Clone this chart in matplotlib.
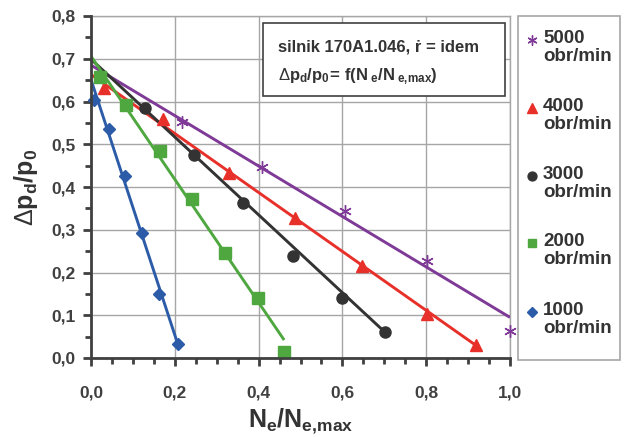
import matplotlib
matplotlib.use("Agg")
import matplotlib.pyplot as plt
from matplotlib.lines import Line2D
from matplotlib.patches import Rectangle
from matplotlib.ticker import MultipleLocator, FuncFormatter

plt.rcParams['font.family'] = ['Liberation Sans', 'DejaVu Sans']
plt.rcParams['mathtext.fontset'] = 'custom'
plt.rcParams['mathtext.rm'] = 'Liberation Sans'
plt.rcParams['mathtext.bf'] = 'Liberation Sans:bold'
plt.rcParams['mathtext.it'] = 'Liberation Sans:italic'

# Measured points: N_e/N_e,max vs. delta p_d / p_0
labels = ['5000\nobr/min', '4000\nobr/min', '3000\nobr/min', '2000\nobr/min', '1000\nobr/min']

x5000 = [0.217, 0.408, 0.607, 0.803, 1.000]
y5000 = [0.552, 0.447, 0.345, 0.228, 0.064]

x4000 = [0.030, 0.172, 0.330, 0.487, 0.646, 0.801, 0.918]
y4000 = [0.631, 0.559, 0.433, 0.327, 0.215, 0.104, 0.030]

x3000 = [0.129, 0.246, 0.362, 0.481, 0.598, 0.702]
y3000 = [0.585, 0.475, 0.362, 0.239, 0.141, 0.060]

x2000 = [0.022, 0.083, 0.164, 0.241, 0.320, 0.399, 0.461]
y2000 = [0.658, 0.591, 0.484, 0.372, 0.246, 0.140, 0.015]

x1000 = [0.008, 0.043, 0.081, 0.122, 0.163, 0.207]
y1000 = [0.603, 0.536, 0.426, 0.293, 0.150, 0.033]

# Linear trend lines (start, end)
tx5000, ty5000 = [0.0, 1.0], [0.685, 0.095]
tx4000, ty4000 = [0.0, 0.918], [0.663, 0.030]
tx3000, ty3000 = [0.0, 0.702], [0.699, 0.060]
tx2000, ty2000 = [0.0, 0.461], [0.706, 0.042]
tx1000, ty1000 = [0.0, 0.207], [0.651, 0.033]

xticks = [0.0, 0.2, 0.4, 0.6, 0.8, 1.0]
yticks = [0.0, 0.1, 0.2, 0.3, 0.4, 0.5, 0.6, 0.7, 0.8]

colors = ['#7E3A96', '#E8302A', '#333333', '#4EA83F', '#2C5BA8']
markers = [(6, 2, 0), '^', 'o', 's', 'D']
msizes = [9, 9, 8, 8, 6.5]

series = [
    (x5000, y5000, tx5000, ty5000),
    (x4000, y4000, tx4000, ty4000),
    (x3000, y3000, tx3000, ty3000),
    (x2000, y2000, tx2000, ty2000),
    (x1000, y1000, tx1000, ty1000),
]

W, H = 625, 437
fig = plt.figure(figsize=(W / 100, H / 100), dpi=100)
ax = fig.add_axes([91 / W, 1 - 358 / H, (510 - 91) / W, (358 - 16) / H])

ax.set_xlim(0, 1.0)
ax.set_ylim(0, 0.8)

for (xs, ys, tx, ty), c, m, ms in zip(series, colors, markers, msizes):
    ax.plot(tx, ty, color=c, lw=2.1, zorder=3, solid_capstyle='butt')
    if m == (6, 2, 0):
        ax.plot(xs, ys, ls='none', marker=m, ms=ms, color=c, mew=1.0, zorder=4, clip_on=False)
    else:
        ax.plot(xs, ys, ls='none', marker=m, ms=ms, color=c, mec=c, zorder=4, clip_on=False)

ax.set_xticks(xticks)
ax.set_yticks(yticks)
ax.xaxis.set_minor_locator(MultipleLocator(0.05))
ax.yaxis.set_minor_locator(MultipleLocator(0.05))
fmt = FuncFormatter(lambda v, p: f'{v:.1f}'.replace('.', ','))
ax.xaxis.set_major_formatter(fmt)
ax.yaxis.set_major_formatter(fmt)

tick_color = '#404040'
ax.tick_params(axis='both', which='major', direction='out', length=6, width=2,
               color=tick_color, labelsize=12.5, labelcolor=tick_color)
ax.tick_params(axis='both', which='minor', direction='out', length=4, width=2, color=tick_color)
ax.tick_params(axis='x', pad=14)
ax.tick_params(axis='y', pad=5)
for lab in ax.get_xticklabels() + ax.get_yticklabels():
    lab.set_fontweight('bold')

ax.grid(True, which='major', color='#a6a6a6', lw=1.0)
ax.set_axisbelow(True)
for s in ['left', 'bottom']:
    ax.spines[s].set_color(tick_color)
    ax.spines[s].set_linewidth(2)
    ax.spines[s].set_zorder(5)
for s in ['top', 'right']:
    ax.spines[s].set_color('#a6a6a6')
    ax.spines[s].set_linewidth(1.0)

ax.set_ylabel(r'$\Delta\mathbf{p}_{\mathbf{d}}\mathbf{/p}_{\mathbf{0}}$',
              fontsize=18, color='#333333', labelpad=8)
ax.set_xlabel(r'$\mathbf{N}_{\mathbf{e}}\mathbf{/N}_{\mathbf{e{,}max}}$',
              fontsize=18, color='#333333', labelpad=4)

# Description box
ax.add_patch(Rectangle((263 / W, 1 - 96 / H), (505 - 263) / W, (96 - 23) / H,
                       transform=fig.transFigure, fill=True, facecolor='white',
                       edgecolor='#404040', lw=1.2, zorder=6, clip_on=False))
fig.text(278 / W, 1 - 47 / H, 'silnik 170A1.046, \u1e59 = idem', fontsize=12,
         fontweight='bold', color='#333333', va='center', ha='left', zorder=7)
fig.text(278 / W, 1 - 77 / H,
         r'$\Delta\mathbf{p}_{\mathbf{d}}\mathbf{/p}_{\mathbf{0}}\mathbf{\!=\,f(N}_{\mathbf{\ e}}\mathbf{/N}_{\mathbf{\ e{,}max}}\mathbf{)}$',
         fontsize=12, color='#333333', va='center', ha='left', zorder=7)

# Legend panel
fig.add_artist(Rectangle((518 / W, 1 - 360 / H), (620 - 518) / W, (360 - 16) / H,
                         transform=fig.transFigure, fill=False, edgecolor='#a6a6a6', lw=1.2))
entry_y = [40, 108, 176, 243, 312]
for lab, c, m, ms, ey in zip(labels, colors, markers, msizes, entry_y):
    mk = Line2D([532 / W], [1 - ey / H], transform=fig.transFigure, ls='none',
                marker=m, ms=ms * 0.8, color=c, mec=c, mew=1.0)
    fig.add_artist(mk)
    fig.text(543 / W, 1 - (ey - 10) / H, lab, fontsize=13.5, fontweight='bold',
             color='#333333', va='top', ha='left', linespacing=1.05)

fig.savefig('out.png', dpi=100)
